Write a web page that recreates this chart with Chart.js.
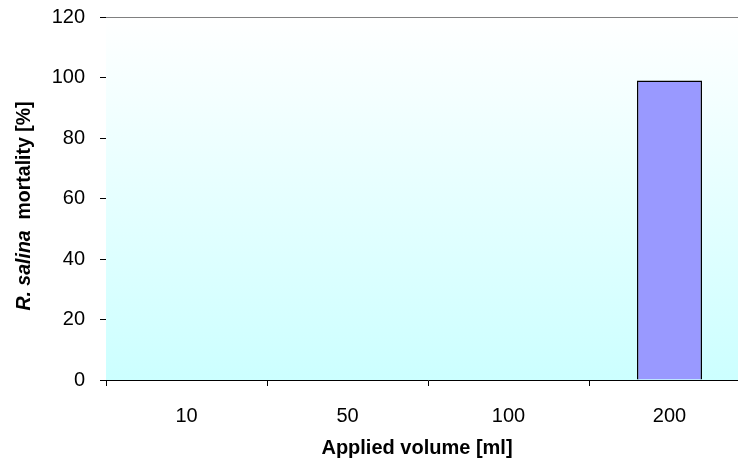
<!DOCTYPE html>
<html>
<head>
<meta charset="utf-8">
<script src="https://cdn.jsdelivr.net/npm/chart.js@4/dist/chart.umd.min.js"></script>
<style>
  html, body { margin: 0; padding: 0; background: #fff; overflow: hidden; }
  #wrap { width: 800px; height: 466px; position: relative; }
</style>
</head>
<body>
<div id="wrap"><canvas id="c" width="800" height="466"></canvas></div>
<script>
// Applied volumes (ml) and measured R. salina mortality (%)
const volumes = ['10', '50', '100', '200'];
const mortality = [0, 0, 0, 99];
const yTicks = [0, 20, 40, 60, 80, 100, 120];

const FONT = '"Liberation Sans", Arial, sans-serif';

// Gradient plot background and grey top border
const plotBackground = {
  id: 'plotBackground',
  beforeDatasetsDraw(chart) {
    const { ctx, chartArea: a } = chart;
    ctx.save();
    const g = ctx.createLinearGradient(0, a.top, 0, a.bottom);
    g.addColorStop(0, '#ffffff');
    g.addColorStop(1, '#ccffff');
    ctx.fillStyle = g;
    ctx.fillRect(a.left, a.top, a.right - a.left, a.bottom - a.top);
    ctx.strokeStyle = '#808080';
    ctx.lineWidth = 1;
    ctx.beginPath();
    ctx.moveTo(a.left, a.top + 0.5);
    ctx.lineTo(a.right, a.top + 0.5);
    ctx.stroke();
    ctx.restore();
  }
};

// Axis titles (the y title mixes italic species name with plain text)
const axisTitles = {
  id: 'axisTitles',
  afterDraw(chart) {
    const { ctx } = chart;
    ctx.save();
    ctx.fillStyle = '#000';
    ctx.textBaseline = 'middle';
    // x title
    ctx.font = 'bold 20px ' + FONT;
    ctx.textAlign = 'center';
    ctx.fillText('Applied volume [ml]', 417, 448);
    // y title, rotated
    const parts = [
      { t: 'R. salina', f: 'italic bold 19.5px ' + FONT },
      { t: '  mortality [%]', f: 'bold 19.5px ' + FONT }
    ];
    let total = 0;
    parts.forEach(p => { ctx.font = p.f; p.w = ctx.measureText(p.t).width; total += p.w; });
    ctx.translate(25, 206);
    ctx.rotate(-Math.PI / 2);
    ctx.textAlign = 'left';
    let x = -total / 2;
    parts.forEach(p => { ctx.font = p.f; ctx.fillText(p.t, x, 0); x += p.w; });
    ctx.restore();
  }
};

new Chart(document.getElementById('c'), {
  type: 'bar',
  data: {
    labels: volumes,
    datasets: [{
      data: mortality,
      backgroundColor: '#9999ff',
      borderColor: '#000000',
      borderWidth: 1.5,
      categoryPercentage: 1.0,
      barPercentage: 0.404
    }]
  },
  options: {
    responsive: false,
    animation: false,
    events: [],
    layout: { padding: { top: 17, right: 50, left: 0, bottom: 0 } },
    plugins: { legend: { display: false }, tooltip: { enabled: false } },
    scales: {
      x: {
        grid: { offset: true, drawOnChartArea: false, tickLength: 6, color: '#000', tickColor: '#000' },
        border: { color: '#000', width: 1 },
        ticks: { color: '#000', font: { family: FONT, size: 20 }, padding: 18 },
        afterFit(s) { s.height = 86; }
      },
      y: {
        min: 0, max: 120,
        afterBuildTicks(s) { s.ticks = yTicks.map(v => ({ value: v })); },
        grid: { drawOnChartArea: false, tickLength: 6, color: '#000', tickColor: '#000' },
        border: { color: '#000', width: 1 },
        ticks: { color: '#000', font: { family: FONT, size: 20 }, padding: 15 },
        afterFit(s) { s.width = 106; s.paddingTop = 0; s.paddingBottom = 0; }
      }
    }
  },
  plugins: [plotBackground, axisTitles]
});
</script>
</body>
</html>
